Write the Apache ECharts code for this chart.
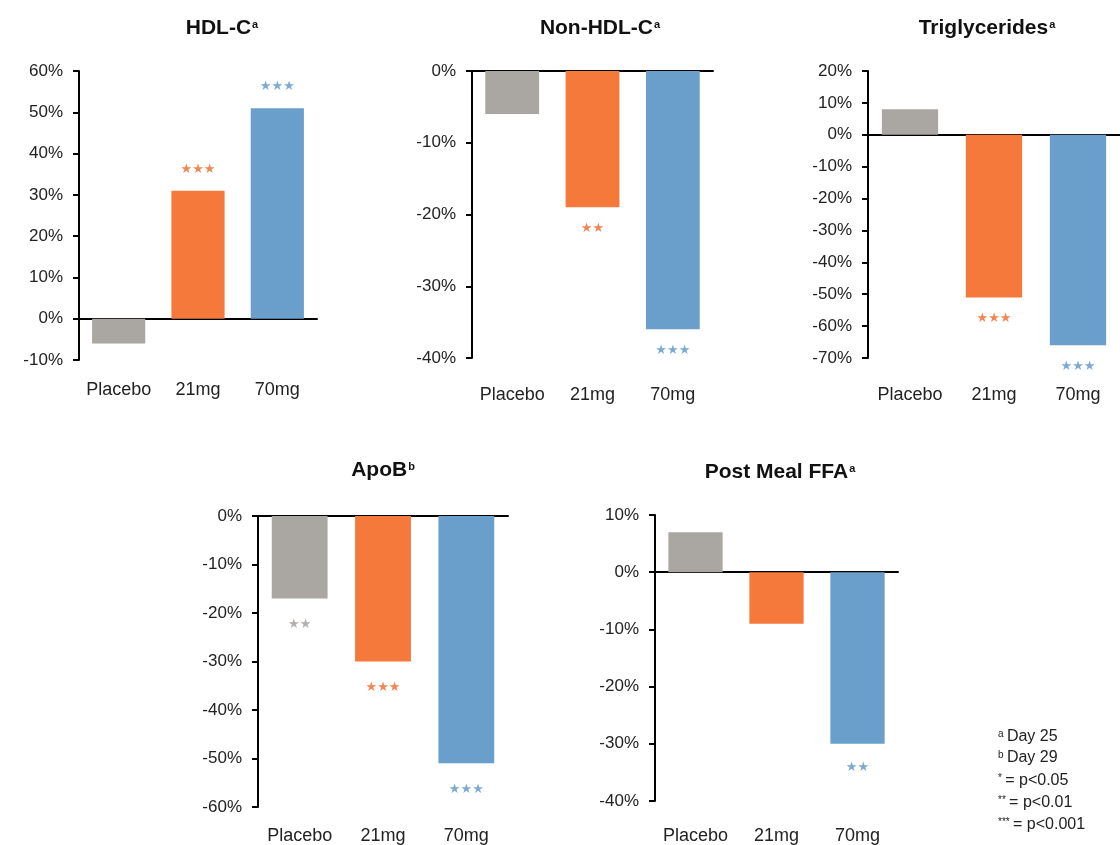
<!DOCTYPE html>
<html>
<head>
<meta charset="utf-8">
<script src="https://cdn.jsdelivr.net/npm/echarts@6/dist/echarts.min.js"></script>
<style>
  html, body { margin: 0; padding: 0; background: #ffffff; }
  #chart { width: 1120px; height: 845px; }
</style>
</head>
<body>
<div id="chart"></div>
<script>
// ---- Data ----
const categories = ['Placebo', '21mg', '70mg'];

const hdlTitle = 'HDL-C', hdlNote = 'a';
const hdlValues = [-6, 31, 51];
const hdlSig = ['', '***', '***'];
const hdlTicks = [-10, 60, 10]; // min, max, step

const nonHdlTitle = 'Non-HDL-C', nonHdlNote = 'a';
const nonHdlValues = [-6, -19, -36];
const nonHdlSig = ['', '**', '***'];
const nonHdlTicks = [-40, 0, 10];

const tgTitle = 'Triglycerides', tgNote = 'a';
const tgValues = [8, -51, -66];
const tgSig = ['', '***', '***'];
const tgTicks = [-70, 20, 10];

const apobTitle = 'ApoB', apobNote = 'b';
const apobValues = [-17, -30, -51];
const apobSig = ['**', '***', '***'];
const apobTicks = [-60, 0, 10];

const ffaTitle = 'Post Meal FFA', ffaNote = 'a';
const ffaValues = [7, -9, -30];
const ffaSig = ['', '', '**'];
const ffaTicks = [-40, 10, 10];

const footnoteMarks = ['a', 'b', '*', '**', '***'];
const footnoteTexts = ['Day 25', 'Day 29', '= p<0.05', '= p<0.01', '= p<0.001'];

// ---- Styles / layout ----
const barColors = ['#aaa6a2', '#f5793a', '#6a9fcb'];
const starColors = ['#b3afab', '#f28652', '#7eaad2'];
const FONT = "'Liberation Sans', Arial, Helvetica, sans-serif";

const panels = [
  { title: hdlTitle, note: hdlNote, values: hdlValues, sig: hdlSig, ticks: hdlTicks,
    grid: { left: 79, top: 71, width: 238, height: 289 }, cx: 222, cy: 28, catMargin: 21, starDist: 15 },
  { title: nonHdlTitle, note: nonHdlNote, values: nonHdlValues, sig: nonHdlSig, ticks: nonHdlTicks,
    grid: { left: 472, top: 71, width: 241, height: 287 }, cx: 600, cy: 28, catMargin: 28, starDist: 15 },
  { title: tgTitle, note: tgNote, values: tgValues, sig: tgSig, ticks: tgTicks,
    grid: { left: 868, top: 71, width: 253, height: 287 }, cx: 987, cy: 28, catMargin: 28, starDist: 15 },
  { title: apobTitle, note: apobNote, values: apobValues, sig: apobSig, ticks: apobTicks,
    grid: { left: 258, top: 516, width: 250, height: 292 }, cx: 383, cy: 470, catMargin: 20, starDist: 20 },
  { title: ffaTitle, note: ffaNote, values: ffaValues, sig: ffaSig, ticks: ffaTicks,
    grid: { left: 655, top: 515, width: 243, height: 287 }, cx: 780, cy: 472, catMargin: 26, starDist: 17 }
];

const option = {
  backgroundColor: '#ffffff',
  animation: false,
  title: [],
  grid: [],
  xAxis: [],
  yAxis: [],
  series: [],
  graphic: []
};

panels.forEach((p, i) => {
  option.title.push({
    text: '{t|' + p.title + '}{s|' + p.note + '}',
    left: p.cx - 5,
    top: p.cy - 12 - 5,
    textAlign: 'center',
    textStyle: {
      rich: {
        t: { fontFamily: FONT, fontSize: 21, fontWeight: 'bold', color: '#111', lineHeight: 24 },
        s: { fontFamily: FONT, fontSize: 11, fontWeight: 'bold', color: '#111', verticalAlign: 'top', padding: [3, 0, 0, 1] }
      }
    }
  });
  option.grid.push(Object.assign({ containLabel: false }, p.grid));
  // baseline axis at zero
  option.xAxis.push({
    type: 'category', gridIndex: i, data: categories,
    axisLine: { onZero: true, lineStyle: { color: '#000', width: 2 } },
    axisTick: { show: false },
    axisLabel: { show: false },
    splitLine: { show: false }
  });
  // label axis at bottom
  option.xAxis.push({
    type: 'category', gridIndex: i, data: categories, position: 'bottom',
    axisLine: { show: false, onZero: false },
    axisTick: { show: false },
    axisLabel: { show: true, interval: 0, margin: p.catMargin, fontFamily: FONT, fontSize: 18, color: '#222' },
    splitLine: { show: false }
  });
  option.yAxis.push({
    type: 'value', gridIndex: i,
    min: p.ticks[0], max: p.ticks[1], interval: p.ticks[2],
    axisLine: { show: true, onZero: false, lineStyle: { color: '#000', width: 2 } },
    axisTick: { show: true, length: 6, lineStyle: { color: '#000', width: 2 } },
    axisLabel: { margin: 16, fontFamily: FONT, fontSize: 17, color: '#222', formatter: '{value}%' },
    splitLine: { show: false }
  });
  const sig = p.sig;
  option.series.push({
    type: 'bar',
    xAxisIndex: 2 * i,
    yAxisIndex: i,
    barWidth: '67%',
    data: p.values.map((v, j) => ({
      value: v,
      itemStyle: { color: barColors[j] },
      label: { color: starColors[j] }
    })),
    label: {
      show: true,
      position: 'outside',
      distance: p.starDist,
      fontFamily: "'DejaVu Sans', sans-serif",
      fontSize: 13,
      formatter: (params) => sig[params.dataIndex].replace(/\*/g, '\u2605')
    },
    emphasis: { disabled: true },
    silent: true
  });
});

// footnotes
const noteYs = [737, 758, 781, 803, 825];
footnoteMarks.forEach((m, k) => {
  option.graphic.push({
    type: 'text',
    x: 998,
    y: noteYs[k],
    style: {
      text: '{s|' + m + '} {t|' + footnoteTexts[k] + '}',
      verticalAlign: 'middle',
      align: 'left',
      rich: {
        s: { fontFamily: FONT, fontSize: 10, fill: '#222', verticalAlign: 'top' },
        t: { fontFamily: FONT, fontSize: 16, fill: '#222' }
      }
    }
  });
});

const chart = echarts.init(document.getElementById('chart'), null, { renderer: 'canvas' });
chart.setOption(option);
</script>
</body>
</html>
